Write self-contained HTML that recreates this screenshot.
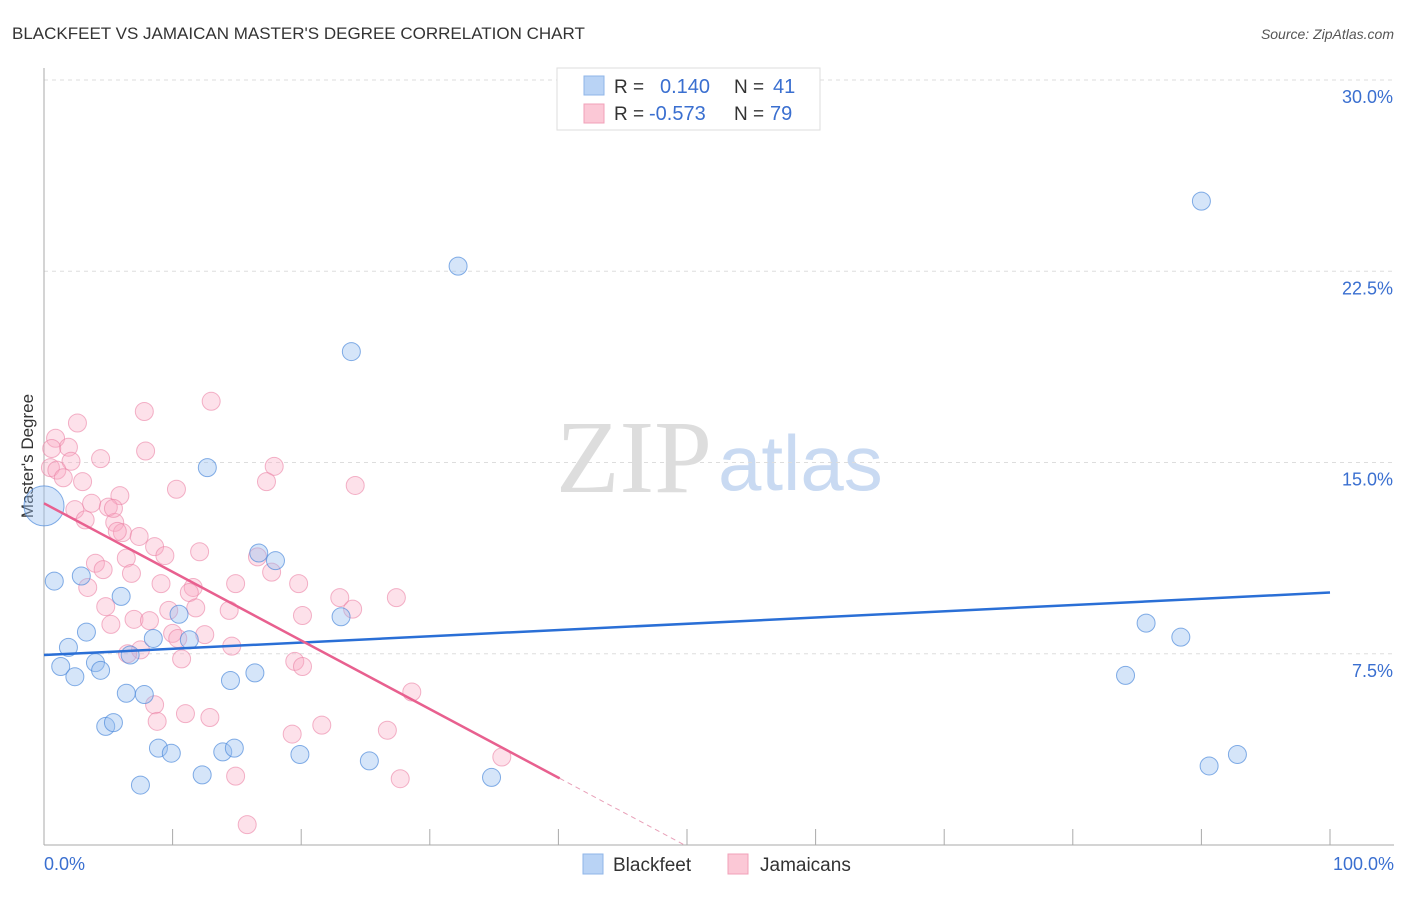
<!DOCTYPE html>
<html><head><meta charset="utf-8"><style>
body{margin:0;background:#fff;font-family:"Liberation Sans",sans-serif}
svg text{font-family:"Liberation Sans",sans-serif}
</style></head><body>
<svg id="c" width="1406" height="892">
<text x="12" y="39" font-size="17" fill="#333">BLACKFEET VS JAMAICAN MASTER'S DEGREE CORRELATION CHART</text>
<text x="1394" y="39" font-size="14" fill="#555" font-style="italic" text-anchor="end">Source: ZipAtlas.com</text>
<text x="712" y="492" font-size="104" fill="#ddd" style="font-family:'Liberation Serif',serif" text-anchor="end">ZIP</text>
<text x="718" y="490" font-size="78" fill="#c9daf2">atlas</text>
<text transform="translate(33,456) rotate(-90)" font-size="17" fill="#333" text-anchor="middle">Master's Degree</text>
<g id="grid"></g><g id="pts"></g><g id="lines"></g>
<g>
<rect x="557" y="68" width="263" height="62" fill="#fff" stroke="#ddd"/>
<rect x="584" y="76" width="20" height="19" fill="#b9d3f5" stroke="#8fb6e8"/>
<rect x="584" y="104" width="20" height="19" fill="#fbc8d6" stroke="#f1a0b8"/>
<text x="614" y="93" font-size="19" fill="#333">R =</text><text x="660" y="93" font-size="20" fill="#3a6fd0">0.140</text>
<text x="734" y="93" font-size="19" fill="#333">N =</text><text x="773" y="93" font-size="20" fill="#3a6fd0">41</text>
<text x="614" y="120" font-size="19" fill="#333">R =</text><text x="649" y="120" font-size="20" fill="#3a6fd0">-0.573</text>
<text x="734" y="120" font-size="19" fill="#333">N =</text><text x="770" y="120" font-size="20" fill="#3a6fd0">79</text>
</g>
<g>
<rect x="583" y="854" width="20" height="20" fill="#b9d3f5" stroke="#8fb6e8"/>
<text x="613" y="871" font-size="19" fill="#333">Blackfeet</text>
<rect x="728" y="854" width="20" height="20" fill="#fbc8d6" stroke="#f1a0b8"/>
<text x="760" y="871" font-size="19" fill="#333">Jamaicans</text>
</g>
</svg>
<script>
const yTicks=[7.5,15,22.5,30];
const yTickLabels=["7.5%","15.0%","22.5%","30.0%"];
const xTicks=[0,10,20,30,40,50,60,70,80,90,100];
const blueX=[0.8,2.9,3.3,1.9,1.3,2.4,4.0,4.4,6.0,6.7,8.5,10.5,11.3,12.7,16.7,18.0,23.1,6.4,7.8,4.8,5.4,8.9,9.9,13.9,14.8,14.5,16.4,12.3,7.5,19.9,25.3,34.8,23.9,32.2,90.0,85.7,88.4,84.1,90.6,92.8,0];
const blueY=[10.35,10.55,8.35,7.75,7.0,6.6,7.15,6.85,9.75,7.45,8.1,9.05,8.05,14.8,11.45,11.15,8.95,5.95,5.9,4.65,4.8,3.8,3.6,3.65,3.8,6.45,6.75,2.75,2.35,3.55,3.3,2.65,19.35,22.7,25.25,8.7,8.15,6.65,3.1,3.55,13.3];
const blueR=[9,9,9,9,9,9,9,9,9,9,9,9,9,9,9,9,9,9,9,9,9,9,9,9,9,9,9,9,9,9,9,9,9,9,9,9,9,9,9,9,20];
const pinkX=[13.0,7.8,2.6,0.9,1.9,7.9,0.6,4.4,2.1,17.9,0.5,1.0,1.5,17.3,24.2,3.0,10.3,5.9,3.7,5.0,2.4,3.2,5.5,6.1,5.7,7.4,8.6,9.4,12.1,16.6,17.7,6.4,4.0,4.6,6.8,3.4,9.1,11.6,11.3,14.9,19.8,23.0,27.4,4.8,9.7,11.8,14.4,20.1,24.0,7.0,8.2,5.2,10.0,10.4,12.5,14.6,7.5,6.5,10.7,19.5,20.1,28.6,8.6,8.8,11.0,12.9,21.6,19.3,26.7,27.7,14.9,15.8,35.6,5.4];
const pinkY=[17.4,17.0,16.55,15.95,15.6,15.45,15.55,15.15,15.05,14.85,14.8,14.7,14.4,14.25,14.1,14.25,13.95,13.7,13.4,13.25,13.15,12.75,12.65,12.25,12.3,12.1,11.7,11.35,11.5,11.3,10.7,11.25,11.05,10.8,10.65,10.1,10.25,10.1,9.9,10.25,10.25,9.7,9.7,9.35,9.2,9.3,9.2,9.0,9.25,8.85,8.8,8.65,8.3,8.1,8.25,7.8,7.65,7.5,7.3,7.2,7.0,6.0,5.5,4.85,5.15,5.0,4.7,4.35,4.5,2.6,2.7,0.8,3.45,13.2];
const blueTrend=[7.45,0.0245];
const pinkTrend=[13.4,-0.269];
const pinkSolidEnd=40.1;
const X=v=>44+v*12.86, Y=v=>845-v*25.5;
const NS="http://www.w3.org/2000/svg";
function mk(t,a,p){const e=document.createElementNS(NS,t);for(const k in a)e.setAttribute(k,a[k]);p.appendChild(e);return e;}
const g=document.getElementById('grid');
yTicks.forEach((t,i)=>{
 const l=mk('line',{x1:44,x2:1394,y1:Y(t),y2:Y(t),stroke:'#ddd','stroke-dasharray':'4,4'},g);
 
 
 const tx=mk('text',{x:1393,y:Y(t)+23,'font-size':18,fill:'#3a6fd0','text-anchor':'end'},g);tx.textContent=yTickLabels[i];
 
 
});
const ax=mk('line',{x1:44,x2:44,y1:68,y2:845,stroke:'#aaa'},g);


const bx=mk('line',{x1:44,x2:1394,y1:845,y2:845,stroke:'#aaa'},g);


xTicks.forEach(t=>{const l=mk('line',{x1:X(t),x2:X(t),y1:829,y2:845,stroke:'#aaa'},g);
 
 });
const a0=mk('text',{x:44,y:870,'font-size':18,fill:'#3a6fd0'},g);a0.textContent='0.0%';


const a1=mk('text',{x:1394,y:870,'font-size':18,fill:'#3a6fd0','text-anchor':'end'},g);a1.textContent='100.0%';


const p=document.getElementById('pts');
pinkX.forEach((x,i)=>{const c=mk('circle',{cx:X(x),cy:Y(pinkY[i]),r:9,fill:'rgba(248,170,195,0.35)',stroke:'rgba(235,130,165,0.6)'},p);
 
 });
blueX.forEach((x,i)=>{const c=mk('circle',{cx:X(x),cy:Y(blueY[i]),r:blueR[i],fill:'rgba(150,190,240,0.4)',stroke:'rgba(80,140,220,0.7)'},p);
 
 });
const L=document.getElementById('lines');
const bl=mk('line',{x1:X(0),y1:Y(blueTrend[0]),x2:X(100),y2:Y(blueTrend[0]+blueTrend[1]*100),stroke:'#2a6fd6','stroke-width':2.5},L);


const pl=mk('line',{x1:X(0),y1:Y(pinkTrend[0]),x2:X(pinkSolidEnd),y2:Y(pinkTrend[0]+pinkTrend[1]*pinkSolidEnd),stroke:'#e8608f','stroke-width':2.5},L);


const zx=-pinkTrend[0]/pinkTrend[1];
const pd=mk('line',{x1:X(pinkSolidEnd),y1:Y(pinkTrend[0]+pinkTrend[1]*pinkSolidEnd),x2:X(zx),y2:Y(0),stroke:'#e8a0b8','stroke-width':1,'stroke-dasharray':'5,4'},L);


</script>
</body></html>
